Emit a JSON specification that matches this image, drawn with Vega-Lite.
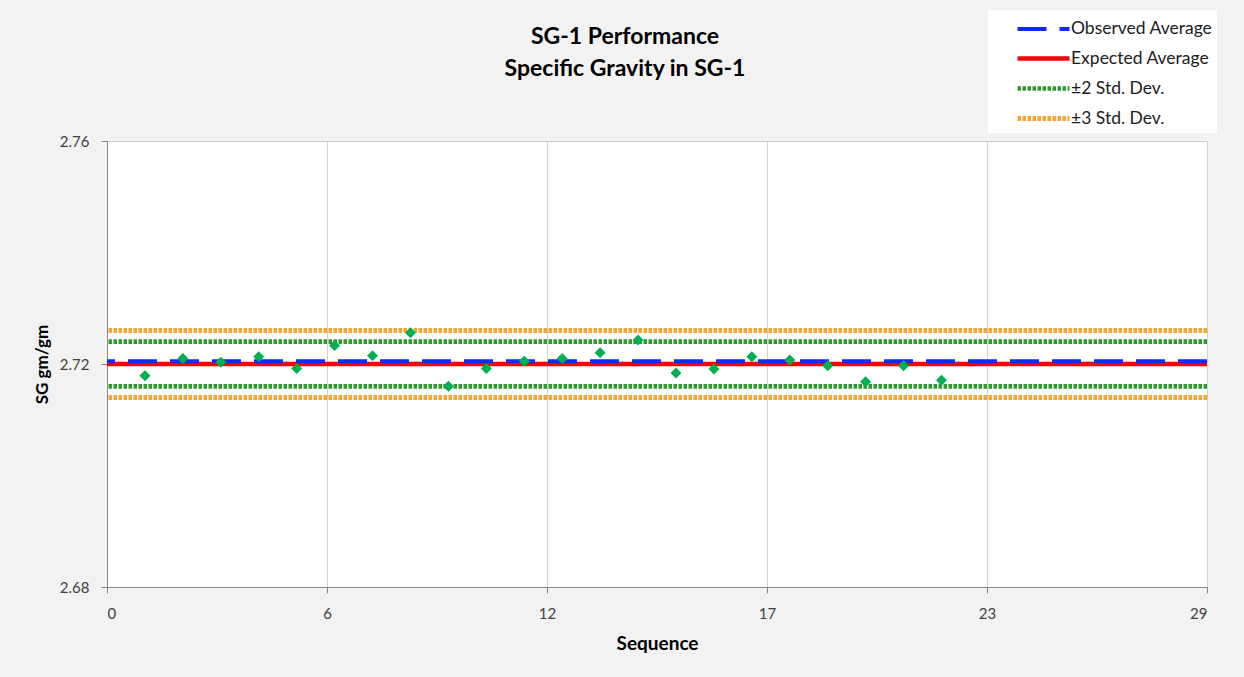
{
  "$schema": "https://vega.github.io/schema/vega-lite/v6.json",
  "width": 1100,
  "height": 446,
  "autosize": {"type": "none"},
  "padding": {"left": 107, "top": 141, "right": 37, "bottom": 90},
  "background": "#f2f2f2",
  "config": {
    "view": {"fill": "white", "stroke": null},
    "font": "Lato"
  },
  "title": {
    "text": ["SG-1 Performance", "Specific Gravity in SG-1"],
    "fontSize": 23,
    "fontWeight": "bold",
    "font": "Lato",
    "color": "#000000",
    "anchor": "middle",
    "frame": "group",
    "dx": -32,
    "offset": -71,
    "lineHeight": 32
  },
  "datasets": {
    "points": [
      {"seq": 1, "sg": 2.7179},
      {"seq": 2, "sg": 2.7210},
      {"seq": 3, "sg": 2.7203},
      {"seq": 4, "sg": 2.7213},
      {"seq": 5, "sg": 2.7192},
      {"seq": 6, "sg": 2.7233},
      {"seq": 7, "sg": 2.7215},
      {"seq": 8, "sg": 2.7256},
      {"seq": 9, "sg": 2.7160},
      {"seq": 10, "sg": 2.7192},
      {"seq": 11, "sg": 2.7205},
      {"seq": 12, "sg": 2.7210},
      {"seq": 13, "sg": 2.7220},
      {"seq": 14, "sg": 2.7243},
      {"seq": 15, "sg": 2.7184},
      {"seq": 16, "sg": 2.7191},
      {"seq": 17, "sg": 2.7213},
      {"seq": 18, "sg": 2.7207},
      {"seq": 19, "sg": 2.7197},
      {"seq": 20, "sg": 2.7168},
      {"seq": 21, "sg": 2.7197},
      {"seq": 22, "sg": 2.7171}
    ],
    "lines": [
      {"series": "±3 Std. Dev.", "value": 2.726},
      {"series": "±3 Std. Dev.", "value": 2.714},
      {"series": "±2 Std. Dev.", "value": 2.724},
      {"series": "±2 Std. Dev.", "value": 2.716},
      {"series": "Observed Average", "value": 2.7205},
      {"series": "Expected Average", "value": 2.72}
    ]
  },
  "layer": [
    {
      "data": {"name": "lines"},
      "mark": {"type": "rule"},
      "encoding": {
        "y": {
          "field": "value",
          "type": "quantitative",
          "scale": {"domain": [2.68, 2.76], "nice": false, "zero": false},
          "axis": {
            "values": [2.68, 2.72, 2.76],
            "format": ".2f",
            "title": "SG gm/gm",
            "titleFontSize": 17,
            "titleFontWeight": "bold",
            "titleColor": "#000000",
            "titlePadding": 8,
            "labelFontSize": 15,
            "labelColor": "#404040",
            "labelPadding": 12,
            "tickSize": 6,
            "tickColor": "#868686",
            "domainColor": "#868686",
            "grid": true,
            "gridColor": "#d0d0d0"
          }
        },
        "color": {
          "field": "series",
          "type": "nominal",
          "scale": {
            "domain": ["Observed Average", "Expected Average", "±2 Std. Dev.", "±3 Std. Dev."],
            "range": ["#0a2cff", "#ff0000", "#2e9a2e", "#f9a431"]
          },
          "legend": {
            "title": null,
            "orient": "none",
            "legendX": 881,
            "legendY": -131,
            "fillColor": "white",
            "padding": 4,
            "symbolOffset": 36,
            "symbolType": "M-2,0H2",
            "symbolSize": 676,
            "labelFontSize": 17.5,
            "labelColor": "#202020",
            "labelOffset": 12,
            "rowPadding": 5,
            "labelLimit": 300
          }
        },
        "strokeDash": {
          "field": "series",
          "type": "nominal",
          "scale": {
            "domain": ["Observed Average", "Expected Average", "±2 Std. Dev.", "±3 Std. Dev."],
            "range": [[29, 13], [1, 0], [3.5, 1.5], [3.5, 1.5]]
          },
          "legend": null
        },
        "strokeWidth": {
          "field": "series",
          "type": "nominal",
          "scale": {
            "domain": ["Observed Average", "Expected Average", "±2 Std. Dev.", "±3 Std. Dev."],
            "range": [4, 5, 1, 1]
          },
          "legend": null
        },
        "order": {"field": "series"}
      }
    },
    {
      "data": {"name": "points"},
      "mark": {"type": "point", "shape": "diamond", "filled": true, "color": "#00b050", "size": 120, "opacity": 1},
      "encoding": {
        "x": {
          "field": "seq",
          "type": "quantitative",
          "scale": {"domain": [0, 29], "nice": false, "zero": false},
          "axis": {
            "values": [0, 5.8, 11.6, 17.4, 23.2, 29],
            "format": ".0f",
            "title": "Sequence",
            "titleFontSize": 19,
            "titleFontWeight": "bold",
            "titleColor": "#000000",
            "titlePadding": 13,
            "labelFontSize": 15,
            "labelColor": "#404040",
            "labelPadding": 13,
            "tickSize": 6,
            "tickColor": "#868686",
            "domainColor": "#868686",
            "grid": true,
            "gridColor": "#d0d0d0"
          }
        },
        "y": {"field": "sg", "type": "quantitative"}
      }
    }
  ]
}
